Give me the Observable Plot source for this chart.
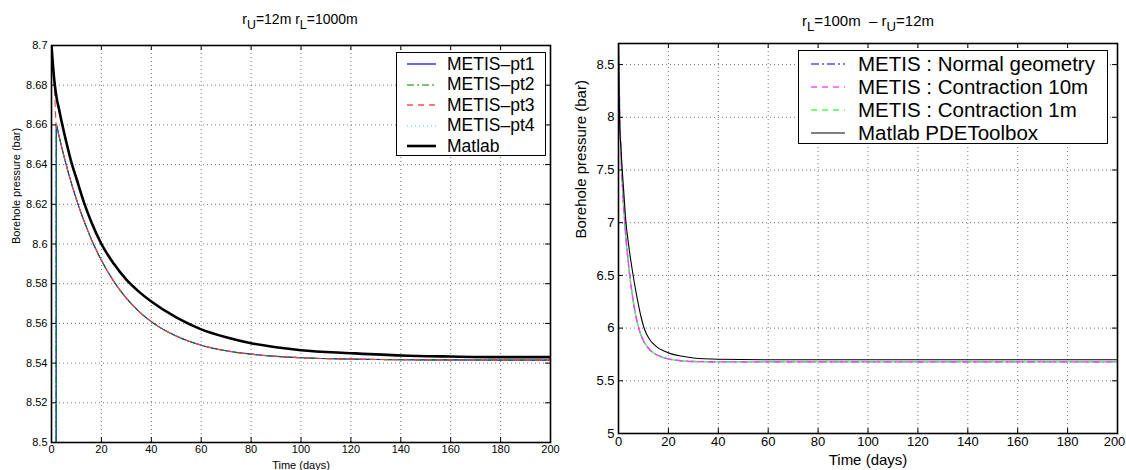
<!DOCTYPE html>
<html><head><meta charset="utf-8">
<script src="https://cdn.jsdelivr.net/npm/d3@7"></script>
<script src="https://cdn.jsdelivr.net/npm/@observablehq/plot@0.6"></script>
<style>
body{margin:0;background:#fff;font-family:"Liberation Sans",Arial,Helvetica,sans-serif;}
#wrap{position:relative;width:1126px;height:470px;overflow:hidden;background:#fff;}
.panel{position:absolute;top:0;}
.title{position:absolute;white-space:nowrap;transform:translateX(-50%);color:#000;line-height:1;}
.title sub{font-size:88%;vertical-align:-0.38em;line-height:0;}
.legend{position:absolute;border:1px solid #000;background:#fff;box-sizing:border-box;}
.legend .row{position:absolute;left:0;display:flex;align-items:center;white-space:nowrap;color:#000;}
.legend .row svg{display:block;}
</style></head>
<body><div id="wrap"></div>
<script>
// ---------- data ----------
const xTicks = [0, 20, 40, 60, 80, 100, 120, 140, 160, 180, 200];
const leftYTicks = [8.5, 8.52, 8.54, 8.56, 8.58, 8.6, 8.62, 8.64, 8.66, 8.68, 8.7];
const rightYTicks = [5, 5.5, 6, 6.5, 7, 7.5, 8, 8.5];

// Left panel (r_U=12m r_L=1000m)
const leftMetisT = [1.85, 1.9, 3, 4, 6, 8, 10, 12, 14, 16, 18, 20, 25, 30, 35, 40, 50, 60, 70, 80, 90, 100, 120, 140, 160, 180, 200];
const leftMetisP = [8.50, 8.660, 8.6545, 8.6492, 8.6394, 8.6305, 8.6225, 8.6151, 8.6085, 8.6023, 8.5968, 8.5918, 8.5811, 8.5727, 8.5661, 8.5609, 8.5536, 8.549, 8.5462, 8.5445, 8.5434, 8.5427, 8.542, 8.5417, 8.5416, 8.5415, 8.5415];
const leftPt3T = [0, 1.1, 1.9, 3, 4, 6, 8, 10, 12, 14, 16, 18, 20, 25, 30, 35, 40, 50, 60, 70, 80, 90, 100, 120, 140, 160, 180, 200];
const leftPt3P = [8.700, 8.680, 8.660, 8.6545, 8.6492, 8.6394, 8.6305, 8.6225, 8.6151, 8.6085, 8.6023, 8.5968, 8.5918, 8.5811, 8.5727, 8.5661, 8.5609, 8.5536, 8.549, 8.5462, 8.5445, 8.5434, 8.5427, 8.542, 8.5417, 8.5416, 8.5415, 8.5415];
const leftMatlabT = [0, 1, 2, 3, 4, 6, 8, 10, 13, 16, 20, 25, 30, 35, 40, 50, 60, 70, 80, 90, 100, 120, 140, 160, 180, 200];
const leftMatlabP = [8.700, 8.684, 8.674, 8.668, 8.662, 8.651, 8.641, 8.633, 8.621, 8.611, 8.600, 8.590, 8.582, 8.576, 8.571, 8.563, 8.557, 8.553, 8.550, 8.548, 8.5465, 8.545, 8.5438, 8.5433, 8.543, 8.543];

// Right panel (r_L=100m - r_U=12m)
const rightMetisT = [0, 0.5, 1, 1.5, 2, 2.5, 3.5, 4.5, 6, 7, 8, 9, 10, 11, 12.8, 14, 16, 18, 20, 25, 30, 40, 60, 100, 150, 200];
const rightNormalP = [8.68, 8.05, 7.65, 7.38, 7.17, 7.00, 6.72, 6.50, 6.24, 6.11, 6.01, 5.935, 5.88, 5.84, 5.79, 5.765, 5.74, 5.72, 5.708, 5.690, 5.683, 5.680, 5.680, 5.680, 5.680, 5.680];
const rightContr10P = [8.68, 8.05, 7.65, 7.38, 7.17, 7.00, 6.72, 6.50, 6.24, 6.11, 6.01, 5.935, 5.88, 5.84, 5.79, 5.765, 5.74, 5.72, 5.708, 5.690, 5.683, 5.680, 5.680, 5.680, 5.680, 5.680];
const rightContr1P = [8.68, 8.05, 7.65, 7.38, 7.17, 7.00, 6.72, 6.50, 6.24, 6.11, 6.01, 5.935, 5.88, 5.84, 5.79, 5.765, 5.74, 5.72, 5.708, 5.690, 5.683, 5.680, 5.680, 5.680, 5.680, 5.680];
const rightMatlabT = [0, 0.4, 1, 1.5, 2, 3, 4, 5, 6, 8, 9, 10, 11, 12, 13, 14, 16, 18, 20, 25, 30, 40, 60, 100, 200];
const rightMatlabP = [8.70, 8.00, 7.70, 7.50, 7.33, 7.00, 6.80, 6.63, 6.48, 6.22, 6.11, 6.02, 5.955, 5.91, 5.875, 5.85, 5.81, 5.785, 5.765, 5.735, 5.717, 5.705, 5.700, 5.700, 5.700];

// ---------- helpers ----------
const zip = (T, P) => T.map((t, i) => ({t, p: P[i]}));
const FONT = '"Liberation Sans", Arial, Helvetica, sans-serif';

function innerTicks(xT, yT, iw, ih, len) {
  return [
    Plot.tickX(xT, {x: d => d, insetTop: ih - len, stroke: "#000", strokeWidth: 1}),
    Plot.tickX(xT, {x: d => d, insetBottom: ih - len, stroke: "#000", strokeWidth: 1}),
    Plot.tickY(yT, {y: d => d, insetRight: iw - len, stroke: "#000", strokeWidth: 1}),
    Plot.tickY(yT, {y: d => d, insetLeft: iw - len, stroke: "#000", strokeWidth: 1})
  ];
}
function grids(xT, yT) {
  const g = {stroke: "#000", strokeOpacity: 0.55, strokeWidth: 1, strokeDasharray: "1,3"};
  return [Plot.gridX(xT.slice(1, -1), g), Plot.gridY(yT.slice(1, -1), g)];
}

const wrap = document.getElementById("wrap");

// ---------- left panel ----------
{
  const W = 563, H = 470, mL = 51, mR = 13, mT = 45, mB = 28;
  const iw = W - mL - mR, ih = H - mT - mB;
  const chart = Plot.plot({
    width: W, height: H, marginLeft: mL, marginRight: mR, marginTop: mT, marginBottom: mB,
    style: {fontFamily: FONT, fontSize: "11px", color: "#000", background: "#fff"},
    x: {domain: [0, 200]},
    y: {domain: [8.5, 8.7]},
    marks: [
      ...grids(xTicks, leftYTicks),
      Plot.line(zip(leftMetisT, leftMetisP), {x: "t", y: "p", stroke: "#00c0c0", strokeWidth: 1, strokeDasharray: "1,3", curve: "monotone-x", clip: true}),
      Plot.line(zip(leftMetisT, leftMetisP), {x: "t", y: "p", stroke: "#0000ff", strokeWidth: 1.1, curve: "monotone-x", clip: true}),
      Plot.line(zip(leftMetisT, leftMetisP), {x: "t", y: "p", stroke: "#008000", strokeWidth: 1.1, strokeDasharray: "7,3,2,3", curve: "monotone-x", clip: true}),
      Plot.line(zip(leftPt3T, leftPt3P), {x: "t", y: "p", stroke: "#ff4040", strokeWidth: 1.1, strokeDasharray: "6,5", curve: "monotone-x", clip: true}),
      Plot.line(zip(leftMatlabT, leftMatlabP), {x: "t", y: "p", stroke: "#000", strokeWidth: 2.6, curve: "monotone-x", clip: true}),
      ...innerTicks(xTicks, leftYTicks, iw, ih, 5),
      Plot.axisX({ticks: xTicks, tickSize: 0, tickPadding: 3, label: null, tickFormat: d => String(d), fontSize: 11}),
      Plot.axisY({ticks: leftYTicks, tickSize: 0, tickPadding: 4, label: null, tickFormat: d => String(d), fontSize: 11}),
      Plot.frame({stroke: "#000", strokeWidth: 1.6}),
      Plot.text(["Time (days)"], {frameAnchor: "bottom", dy: 26, fontSize: 11, text: d => d}),
      Plot.text(["Borehole pressure (bar)"], {frameAnchor: "left", dx: -35, rotate: -90, fontSize: 11, text: d => d})
    ]
  });
  chart.classList.add("panel");
  chart.style.left = "0px";
  wrap.appendChild(chart);
}

// ---------- right panel ----------
{
  const W = 563, H = 470, mL = 55, mR = 9, mT = 43, mB = 37;
  const iw = W - mL - mR, ih = H - mT - mB;
  const chart = Plot.plot({
    width: W, height: H, marginLeft: mL, marginRight: mR, marginTop: mT, marginBottom: mB,
    style: {fontFamily: FONT, fontSize: "13px", color: "#000", background: "#fff"},
    x: {domain: [0, 200]},
    y: {domain: [5, 8.7]},
    marks: [
      ...grids(xTicks, rightYTicks.concat([8.7])),
      Plot.line(zip(rightMetisT, rightNormalP), {x: "t", y: "p", stroke: "#5050ff", strokeWidth: 1.3, strokeDasharray: "8,3,2,3", curve: "monotone-x", clip: true}),
      Plot.line(zip(rightMetisT, rightContr1P), {x: "t", y: "p", stroke: "#50ff50", strokeWidth: 1.3, strokeDasharray: "6,5", curve: "monotone-x", clip: true}),
      Plot.line(zip(rightMetisT, rightContr10P), {x: "t", y: "p", stroke: "#ff40ff", strokeWidth: 1.3, strokeDasharray: "6,5", strokeDashoffset: 4, curve: "monotone-x", clip: true}),
      Plot.line(zip(rightMatlabT, rightMatlabP), {x: "t", y: "p", stroke: "#000", strokeWidth: 1.1, curve: "monotone-x", clip: true}),
      ...innerTicks(xTicks, rightYTicks, iw, ih, 5),
      Plot.axisX({ticks: xTicks.slice(0, -1), tickSize: 0, tickPadding: 3, label: null, tickFormat: d => String(d), fontSize: 13}),
      Plot.axisX({ticks: xTicks.slice(-1), tickSize: 0, tickPadding: 3, label: null, tickFormat: d => String(d), fontSize: 13, dx: -3}),
      Plot.axisY({ticks: rightYTicks, tickSize: 0, tickPadding: 4, label: null, tickFormat: d => String(d), fontSize: 13}),
      Plot.frame({stroke: "#000", strokeWidth: 1.6}),
      Plot.text(["Time (days)"], {frameAnchor: "bottom", dy: 31, fontSize: 15, text: d => d}),
      Plot.text(["Borehole pressure (bar)"], {frameAnchor: "left", dx: -37, rotate: -90, fontSize: 15, text: d => d})
    ]
  });
  chart.classList.add("panel");
  chart.style.left = "563px";
  wrap.appendChild(chart);
}

// ---------- titles ----------
function addTitle(html, cx, top, size) {
  const d = document.createElement("div");
  d.className = "title";
  d.innerHTML = html;
  d.style.left = cx + "px";
  d.style.top = top + "px";
  d.style.fontSize = size + "px";
  wrap.appendChild(d);
}
addTitle("r<sub>U</sub>=12m r<sub>L</sub>=1000m", 300, 12, 14);
addTitle("r<sub>L</sub>=100m &nbsp;&#8211; r<sub>U</sub>=12m", 868, 13, 15);

// ---------- legends ----------
const leftLegendLabels = ["METIS\u2013pt1", "METIS\u2013pt2", "METIS\u2013pt3", "METIS\u2013pt4", "Matlab"];
const leftLegendStyles = [
  {stroke: "#0000ff", w: 1.2, dash: null},
  {stroke: "#008000", w: 1.2, dash: "7,3,2,3"},
  {stroke: "#ff5050", w: 1.4, dash: "6,5"},
  {stroke: "#40d0d0", w: 1.2, dash: "1,3"},
  {stroke: "#000", w: 2.6, dash: null}
];
const rightLegendLabels = ["METIS : Normal geometry", "METIS : Contraction 10m", "METIS : Contraction 1m", "Matlab PDEToolbox"];
const rightLegendStyles = [
  {stroke: "#5050ff", w: 1.3, dash: "8,3,2,3"},
  {stroke: "#ff50ff", w: 1.3, dash: "6,5"},
  {stroke: "#50ff50", w: 1.3, dash: "6,5"},
  {stroke: "#000", w: 1.1, dash: null}
];
function addLegend(labels, styles, box, rowY, lineX0, lineX1, textX, fontSize) {
  const lg = document.createElement("div");
  lg.className = "legend";
  Object.assign(lg.style, {left: box.x + "px", top: box.y + "px", width: box.w + "px", height: box.h + "px"});
  labels.forEach((lab, i) => {
    const s = styles[i];
    const row = document.createElement("div");
    row.className = "row";
    row.style.top = (rowY[i] - 12) + "px";
    row.style.height = "24px";
    row.style.fontSize = fontSize + "px";
    const svg = d3.create("svg").attr("width", textX).attr("height", 24);
    svg.append("line").attr("x1", lineX0).attr("x2", lineX1).attr("y1", 12).attr("y2", 12)
      .attr("stroke", s.stroke).attr("stroke-width", s.w).attr("stroke-dasharray", s.dash);
    row.appendChild(svg.node());
    const sp = document.createElement("span");
    sp.textContent = lab;
    row.appendChild(sp);
    lg.appendChild(row);
  });
  wrap.appendChild(lg);
}
addLegend(leftLegendLabels, leftLegendStyles, {x: 396, y: 52, w: 150, h: 104}, [11, 31.5, 52, 72.5, 93], 10, 39, 50, 17.5);
addLegend(rightLegendLabels, rightLegendStyles, {x: 798, y: 50, w: 310, h: 94}, [13, 36, 59, 82], 12, 46, 59, 20.5);
</script>
</body></html>
